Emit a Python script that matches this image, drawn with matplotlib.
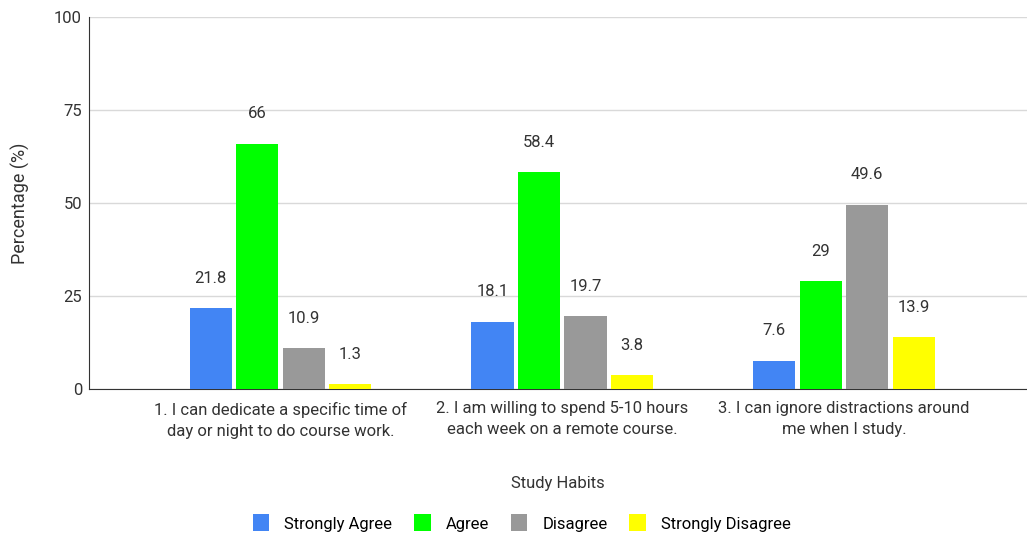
import matplotlib.pyplot as plt
import numpy as np

# data
categories = ['1. I can dedicate a specific time of\nday or night to do course work.',
              '2. I am willing to spend 5-10 hours\neach week on a remote course.',
              '3. I can ignore distractions around\nme when I study.']
series = ['Strongly Agree', 'Agree', 'Disagree', 'Strongly Disagree']
strongly_agree = [21.8, 18.1, 7.6]
agree = [66, 58.4, 29]
disagree = [10.9, 19.7, 49.6]
strongly_disagree = [1.3, 3.8, 13.9]
yticks = [0, 25, 50, 75, 100]

colors = ['#4285F4', '#00FF00', '#999999', '#FFFF00']
plt.rcParams['font.family'] = ['Roboto', 'DejaVu Sans']
txt = '#333333'

fig = plt.figure(figsize=(10.27, 5.38), dpi=100)
ax = fig.add_axes([0.0867, 0.277, 0.9133, 0.691])

x = np.arange(len(categories))
w = 0.15
step = 0.165
vals = [strongly_agree, agree, disagree, strongly_disagree]
for i, (name, v) in enumerate(zip(series, vals)):
    pos = x + (i - 1.5) * step
    bars = ax.bar(pos, v, width=w, color=colors[i], label=name, zorder=3)
    for b, val in zip(bars, v):
        ax.annotate(f'{val:g}', (b.get_x() + b.get_width() / 2, val),
                    xytext=(0, 16), textcoords='offset points',
                    ha='center', va='bottom', fontsize=12, color=txt)

ax.set_xlim(-0.68, 2.65)
ax.set_ylim(0, 100)
ax.set_yticks(yticks)
ax.set_xticks(x)
ax.set_xticklabels(categories, fontsize=12, color=txt, linespacing=1.5)
ax.tick_params(axis='y', labelsize=12, colors=txt, length=0, pad=5)
ax.tick_params(axis='x', length=0, pad=9)
ax.grid(axis='y', color='#d9d9d9', linewidth=1, zorder=0)
ax.set_axisbelow(True)
for s in ['top', 'right']:
    ax.spines[s].set_visible(False)
ax.spines['left'].set_color(txt)
ax.spines['bottom'].set_color(txt)

ax.set_ylabel('Percentage (%)', fontsize=13, color=txt, labelpad=17)
ax.set_xlabel('Study Habits', fontsize=12, color=txt, labelpad=27)

fig.legend(loc='center', bbox_to_anchor=(0.508, 0.028), ncol=4, frameon=False,
           fontsize=12, handlelength=1.0, handleheight=1.2, columnspacing=1.3,
           handletextpad=0.9)

fig.savefig('out.png', dpi=100)
